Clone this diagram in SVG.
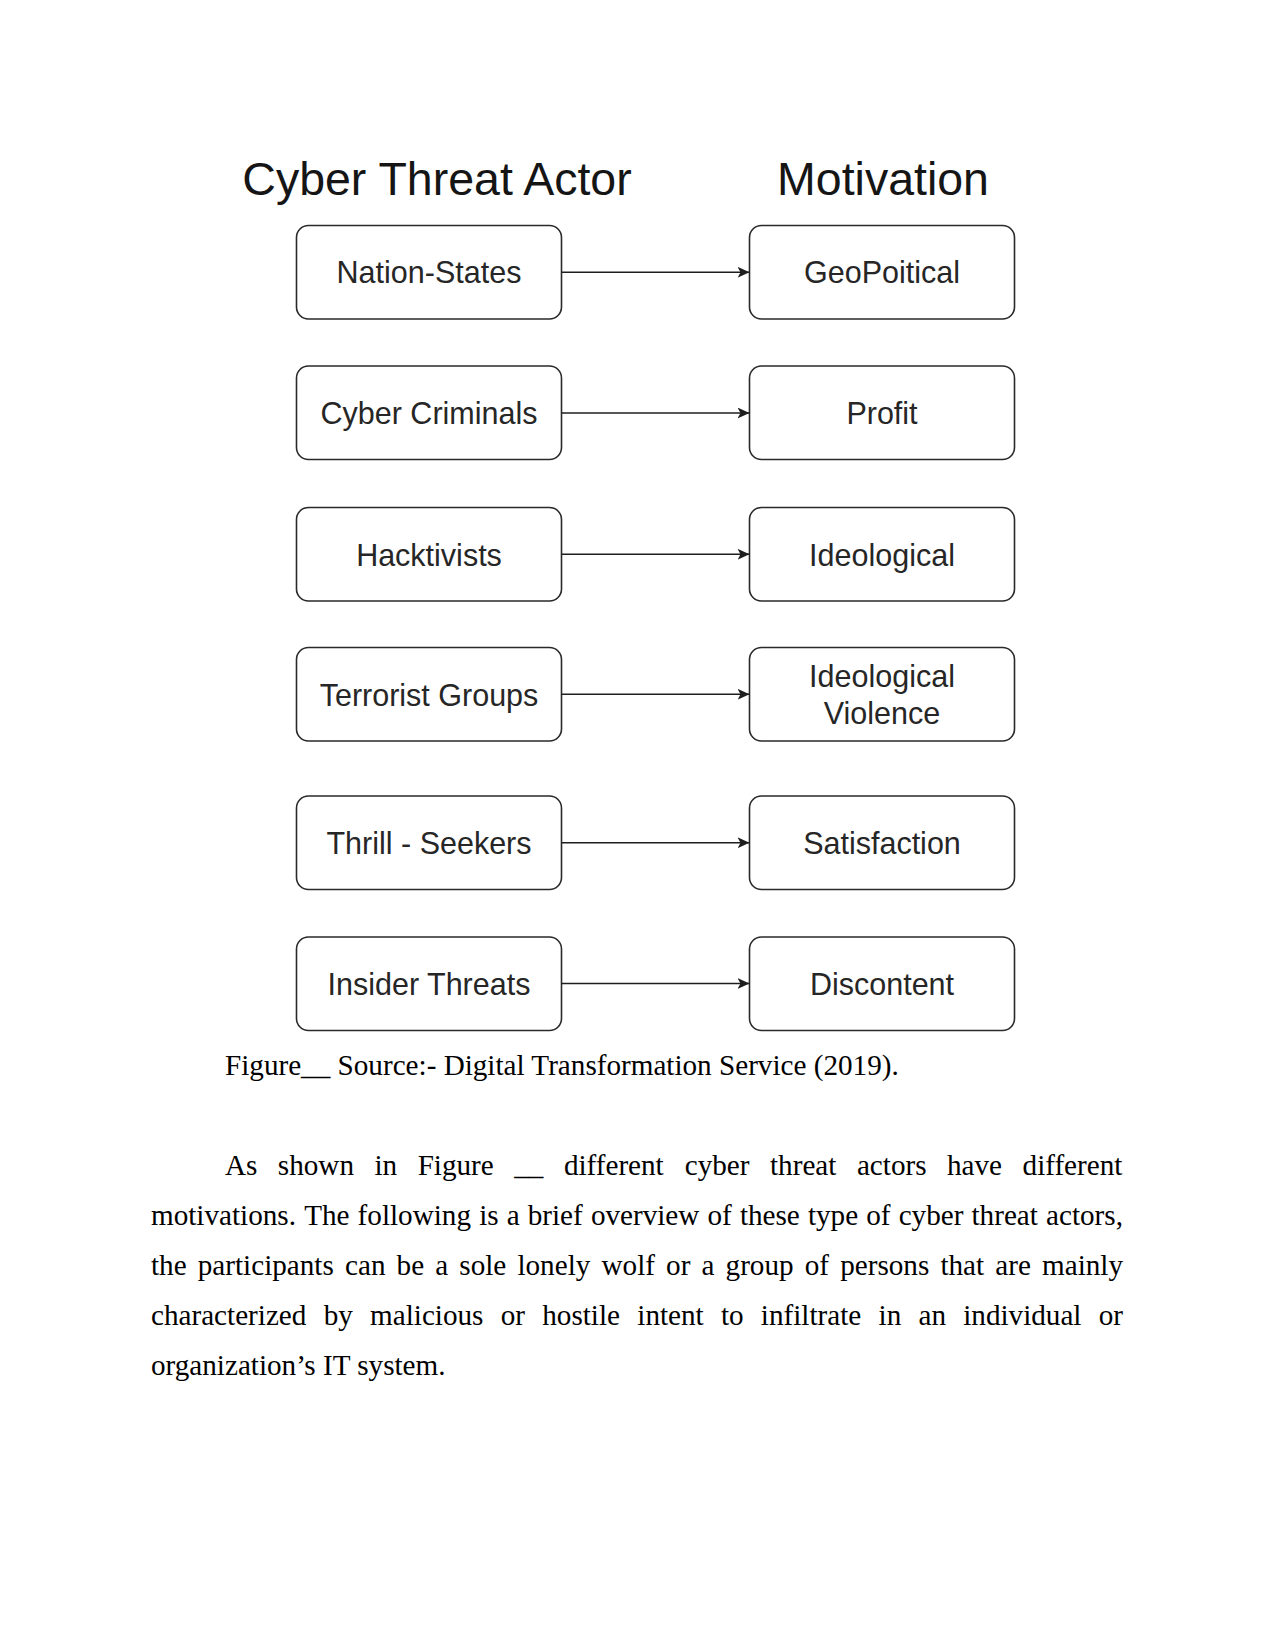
<svg xmlns="http://www.w3.org/2000/svg" width="1275" height="1651" viewBox="0 0 1275 1651">
<style>
.box{fill:#fff;stroke:#2a2a2a;stroke-width:1.6}
.nt{font-family:"Liberation Sans",Arial,sans-serif;font-size:30.5px;fill:#262626;text-anchor:middle}
.hd{font-family:"Liberation Sans",Arial,sans-serif;font-size:46.5px;fill:#151515;text-anchor:middle}
.con{stroke:#1e1e1e;stroke-width:1.6;fill:none}
.body{font-family:"Liberation Serif","Times New Roman",serif;font-size:29.17px;fill:#000}
</style>
<defs>
<marker id="ah" markerUnits="userSpaceOnUse" markerWidth="14" markerHeight="12" refX="12" refY="5.5" orient="auto">
<path d="M0,0 L12,5.5 L0,11 L3,5.5 Z" fill="#1e1e1e"/>
</marker>
</defs>
<rect width="1275" height="1651" fill="#fff"/>
<g id="headers">
<text class="hd" x="437" y="195">Cyber Threat Actor</text>
<text class="hd" x="883" y="195">Motivation</text>
</g>
<g id="actor-nation-states"><rect class="box" x="296.5" y="225.5" width="265" height="93.5" rx="12"/><text class="nt" x="429" y="283.3">Nation-States</text></g>
<g id="motive-geopolitical"><rect class="box" x="749.5" y="225.5" width="265" height="93.5" rx="12"/><text class="nt" x="882" y="283.3">GeoPoitical</text></g>
<g id="actor-cyber-criminals"><rect class="box" x="296.5" y="366" width="265" height="93.5" rx="12"/><text class="nt" x="429" y="424">Cyber Criminals</text></g>
<g id="motive-profit"><rect class="box" x="749.5" y="366" width="265" height="93.5" rx="12"/><text class="nt" x="882" y="424">Profit</text></g>
<g id="actor-hacktivists"><rect class="box" x="296.5" y="507.5" width="265" height="93.5" rx="12"/><text class="nt" x="429" y="565.5">Hacktivists</text></g>
<g id="motive-ideological"><rect class="box" x="749.5" y="507.5" width="265" height="93.5" rx="12"/><text class="nt" x="882" y="565.5">Ideological</text></g>
<g id="actor-terrorist-groups"><rect class="box" x="296.5" y="647.5" width="265" height="93.5" rx="12"/><text class="nt" x="429" y="705.5">Terrorist Groups</text></g>
<g id="motive-ideological-violence"><rect class="box" x="749.5" y="647.5" width="265" height="93.5" rx="12"/><text class="nt" x="882" y="686.7">Ideological</text><text class="nt" x="882" y="724.3">Violence</text></g>
<g id="actor-thrill-seekers"><rect class="box" x="296.5" y="796" width="265" height="93.5" rx="12"/><text class="nt" x="429" y="854">Thrill - Seekers</text></g>
<g id="motive-satisfaction"><rect class="box" x="749.5" y="796" width="265" height="93.5" rx="12"/><text class="nt" x="882" y="854">Satisfaction</text></g>
<g id="actor-insider-threats"><rect class="box" x="296.5" y="937" width="265" height="93.5" rx="12"/><text class="nt" x="429" y="995">Insider Threats</text></g>
<g id="motive-discontent"><rect class="box" x="749.5" y="937" width="265" height="93.5" rx="12"/><text class="nt" x="882" y="995">Discontent</text></g>
<g id="connectors">
<line class="con" x1="561.5" y1="272.3" x2="749.5" y2="272.3" marker-end="url(#ah)"/>
<line class="con" x1="561.5" y1="413" x2="749.5" y2="413" marker-end="url(#ah)"/>
<line class="con" x1="561.5" y1="554.3" x2="749.5" y2="554.3" marker-end="url(#ah)"/>
<line class="con" x1="561.5" y1="694.3" x2="749.5" y2="694.3" marker-end="url(#ah)"/>
<line class="con" x1="561.5" y1="842.8" x2="749.5" y2="842.8" marker-end="url(#ah)"/>
<line class="con" x1="561.5" y1="983.5" x2="749.5" y2="983.5" marker-end="url(#ah)"/>
</g>
<g id="caption">
<text class="body" x="225" y="1075">Figure__ Source:- Digital Transformation Service (2019).</text>
</g>
<g id="paragraph">
<text class="body" y="1175"><tspan x="225">As</tspan><tspan x="277.87">shown</tspan><tspan x="374.49">in</tspan><tspan x="417.64">Figure</tspan><tspan x="514.26">__</tspan><tspan x="563.89">different</tspan><tspan x="684.78">cyber</tspan><tspan x="770.03">threat</tspan><tspan x="856.91">actors</tspan><tspan x="947.03">have</tspan><tspan x="1022.56">different</tspan></text>
<text class="body" y="1225"><tspan x="151">motivations.</tspan><tspan x="304.15">The</tspan><tspan x="357.6">following</tspan><tspan x="479.13">is</tspan><tspan x="506.68">a</tspan><tspan x="527.72">brief</tspan><tspan x="590.88">overview</tspan><tspan x="707.51">of</tspan><tspan x="739.9">these</tspan><tspan x="807.93">type</tspan><tspan x="866.25">of</tspan><tspan x="898.64">cyber</tspan><tspan x="971.52">threat</tspan><tspan x="1046.03">actors,</tspan></text>
<text class="body" y="1275"><tspan x="151">the</tspan><tspan x="197.77">participants</tspan><tspan x="345">can</tspan><tspan x="396.61">be</tspan><tspan x="435.27">a</tspan><tspan x="459.34">sole</tspan><tspan x="517.45">lonely</tspan><tspan x="601.5">wolf</tspan><tspan x="666.09">or</tspan><tspan x="701.51">a</tspan><tspan x="725.58">group</tspan><tspan x="804.75">of</tspan><tspan x="840.17">persons</tspan><tspan x="940.4">that</tspan><tspan x="995.28">are</tspan><tspan x="1042.02">mainly</tspan></text>
<text class="body" y="1325"><tspan x="151">characterized</tspan><tspan x="323.7">by</tspan><tspan x="370.09">malicious</tspan><tspan x="500.75">or</tspan><tspan x="542.27">hostile</tspan><tspan x="637.29">intent</tspan><tspan x="720.96">to</tspan><tspan x="760.87">infiltrate</tspan><tspan x="878.55">in</tspan><tspan x="918.46">an</tspan><tspan x="963.22">individual</tspan><tspan x="1098.75">or</tspan></text>
<text class="body" x="151" y="1375">organization’s IT system.</text>
</g>
</svg>
